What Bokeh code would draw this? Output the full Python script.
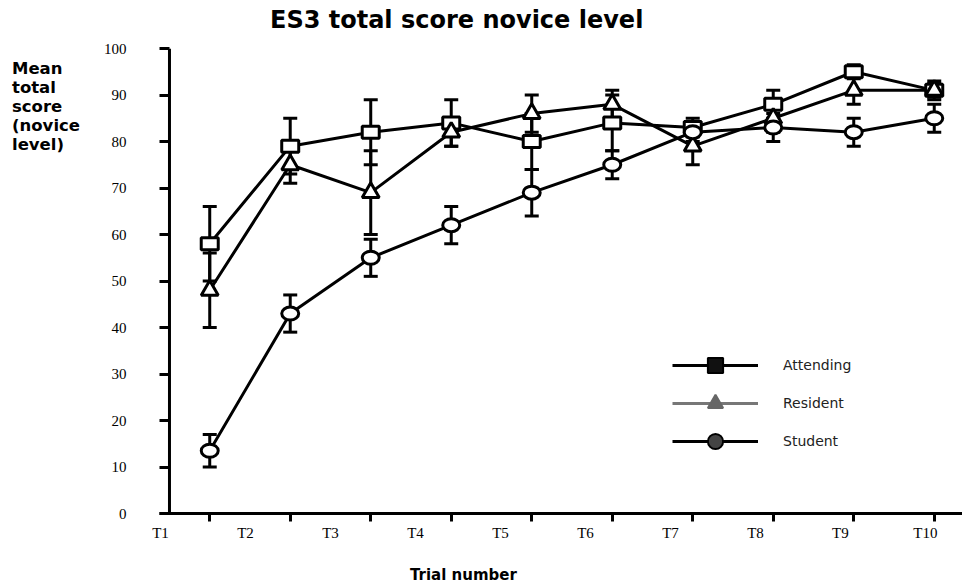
from bokeh.plotting import figure
from bokeh.layouts import row, column
from bokeh.models import (Range1d, FixedTicker, Whisker, TeeHead, LinearAxis, Span,
                          ColumnDataSource, Legend, LegendItem, Div)
from bokeh.embed import file_html
from bokeh.resources import INLINE

# ---------------- data ----------------
trials = ["T1", "T2", "T3", "T4", "T5", "T6", "T7", "T8", "T9", "T10"]
trial_pos = [1, 2, 3, 4, 5, 6, 7, 8, 9, 10]
attending = [58, 79, 82, 84, 80, 84, 83, 88, 95, 91]
attending_err = [8, 6, 7, 5, 6, 6, 2, 3, 1.5, 1.5]
resident = [48, 75, 69, 82, 86, 88, 79, 85, 91, 91]
resident_err = [8, 4, 9, 3, 4, 3, 4, 3, 3, 2]
student = [13.5, 43, 55, 62, 69, 75, 82, 83, 82, 85]
student_err = [3.5, 4, 4, 4, 5, 3, 2, 3, 3, 3]
y_ticks = [0, 10, 20, 30, 40, 50, 60, 70, 80, 90, 100]
x_origin = 0.5  # trial axis starts half a step before T1

series = [
    ("Attending", attending, attending_err),
    ("Resident", resident, resident_err),
    ("Student", student, student_err),
]

p = figure(width=862, height=530, output_backend="svg", toolbar_location=None,
           x_range=Range1d(0.376, 10.351), y_range=Range1d(0, 100),
           min_border_left=58, min_border_right=0, min_border_top=18,
           min_border_bottom=47, margin=0, title_location=None)
p.outline_line_color = None
p.grid.visible = False
p.background_fill_color = "white"

# y axis (ticks drawn inward so the axis line sits 10px inside the frame)
ya = p.yaxis[0]
ya.ticker = FixedTicker(ticks=y_ticks)
ya.axis_line_color = None
ya.major_tick_line_width = 3
ya.major_tick_out = 0
ya.major_tick_in = 10
ya.minor_tick_line_color = None
ya.major_label_standoff = 33
ya.major_label_text_font = "Liberation Serif"
ya.major_label_text_font_size = "15px"
ya.major_label_text_color = "black"
p.add_layout(Span(location=x_origin, dimension="height", line_width=3,
                  line_color="black"))

# x axis (tick marks only)
xa = p.xaxis[0]
xa.ticker = FixedTicker(ticks=trial_pos)
xa.axis_line_width = 3
xa.major_tick_line_width = 3
xa.major_tick_out = 8
xa.major_tick_in = 0
xa.minor_tick_line_color = None
xa.major_label_overrides = {pos: "" for pos in trial_pos}
xa.major_label_standoff = 0

# trial labels on their own, evenly spaced scale (as in the original)
p.extra_x_ranges = {"lab": Range1d(0.988, 10.436)}
la = LinearAxis(x_range_name="lab", ticker=FixedTicker(ticks=trial_pos),
                major_label_overrides={pos: t for pos, t in zip(trial_pos, trials)})
la.axis_line_color = None
la.major_tick_line_color = None
la.minor_tick_line_color = None
la.major_tick_out = 0
la.major_tick_in = 0
la.major_label_standoff = 3
la.major_label_text_font = "Liberation Serif"
la.major_label_text_font_size = "15px"
la.major_label_text_color = "black"
p.add_layout(la, "below")

# error bars
for name, vals, errs in series:
    src = ColumnDataSource(dict(
        x=trial_pos,
        upper=[v + e for v, e in zip(vals, errs)],
        lower=[v - e for v, e in zip(vals, errs)],
    ))
    w = Whisker(source=src, base="x", upper="upper", lower="lower",
                dimension="height", line_width=3, line_color="black",
                upper_head=TeeHead(size=14, line_width=3, line_color="black"),
                lower_head=TeeHead(size=14, line_width=3, line_color="black"),
                level="underlay")
    p.add_layout(w)

# lines
for name, vals, errs in series:
    p.line(trial_pos, vals, line_width=3, line_color="black")

# markers (open)
p.rect(trial_pos, attending, width=17, height=12, width_units="screen",
       height_units="screen", fill_color="white", line_color="black", line_width=3)
p.scatter(trial_pos, resident, marker="triangle", size=17, fill_color="white",
          line_color="black", line_width=3)
p.ellipse(trial_pos, student, width=17, height=13, width_units="screen",
          height_units="screen", fill_color="white", line_color="black", line_width=3)

# legend-only renderers
leg_styles = {
    "Attending": dict(line="black", marker="square", fill="#111111", edge="black"),
    "Resident": dict(line="#777777", marker="triangle", fill="#666666", edge="#666666"),
    "Student": dict(line="black", marker="circle", fill="#444444", edge="black"),
}
items = []
for name, vals, errs in series:
    st = leg_styles[name]
    lr = p.line(trial_pos, vals, line_width=3, line_color=st["line"], visible=False)
    mr = p.scatter(trial_pos, vals, marker=st["marker"], size=16,
                   fill_color=st["fill"], line_color=st["edge"],
                   line_width=2, visible=False)
    items.append(LegendItem(label=name, renderers=[lr, mr]))

legend = Legend(items=items, location=(513, 53), glyph_width=86, glyph_height=38,
                label_standoff=25, spacing=0, padding=10, margin=0,
                border_line_color=None, background_fill_alpha=0,
                label_text_font="DejaVu Sans", label_text_font_size="14px",
                label_text_color="#222222")
p.add_layout(legend)

# chart title
title = Div(
    text=("<div style=\"font-family:'DejaVu Sans';font-weight:bold;font-size:24px;"
          "line-height:28px;color:black;padding:6px 0 0 270px;white-space:nowrap;\">"
          "ES3 total score novice level</div>"),
    width=962, height=30, margin=0)

# y-axis caption (horizontal block at the top-left)
caption = Div(
    text=("<div style=\"font-family:'DejaVu Sans';font-weight:bold;font-size:16.5px;"
          "line-height:19px;color:black;padding:29px 0 0 12px;\">"
          "Mean<br>total<br>score<br>(novice<br>level)</div>"),
    width=100, height=530, margin=0)

# x-axis caption
xcaption = Div(
    text=("<div style=\"font-family:'DejaVu Sans';font-weight:bold;font-size:15px;"
          "line-height:18px;color:black;padding:6px 0 0 410px;\">"
          "Trial number</div>"),
    width=962, height=28, margin=0)

layout = column(title, row(caption, p, spacing=0), xcaption, spacing=0)

open("out.html", "w").write(file_html(layout, INLINE))
